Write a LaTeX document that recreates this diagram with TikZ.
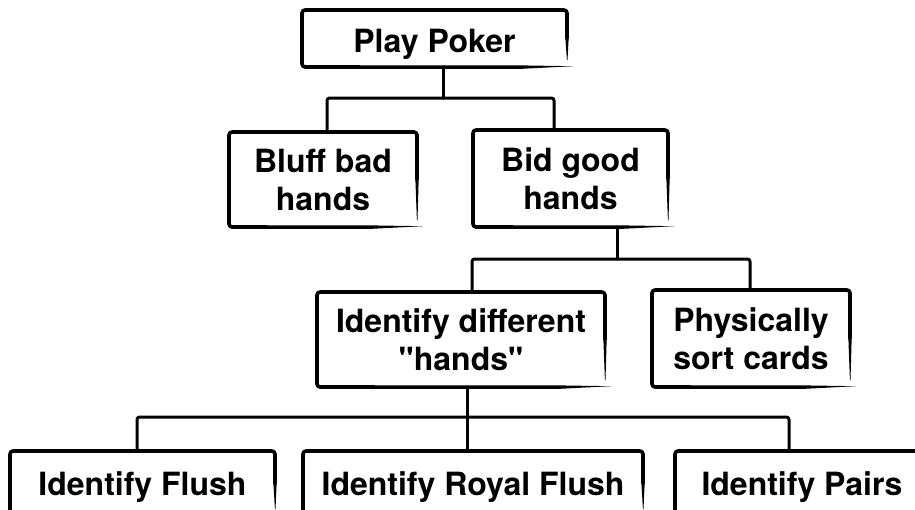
\documentclass[tikz,border=0pt]{standalone}
\usepackage{fontspec}
\newfontfamily\heros{TeX Gyre Heros}
\usetikzlibrary{calc}
\tikzset{
  boxline/.style={line width=3.6pt, rounded corners=3pt, line cap=round, line join=round},
  conn/.style={line width=3pt, rounded corners=2.5pt, line cap=round, line join=round},
  box/.style={rectangle, draw=none, inner sep=0pt, outer sep=0pt, align=center,
    font=\heros\bfseries\fontsize{32}{38}\selectfont},
  oneline/.style={text height=23pt, text depth=0pt},
}
\newcommand\skbox[1]{%
  \draw[boxline] ([xshift=14pt]#1.south west) -- (#1.south west) -- (#1.north west) -- (#1.north east) -- ($(#1.north east)!0.5!(#1.south east)$);
  \fill ($(#1.north east)!0.45!(#1.south east)+(-1.8pt,0)$) -- ($(#1.north east)!0.45!(#1.south east)+(1.8pt,0)$) -- ([xshift=0.5pt,yshift=7pt]#1.south east) -- ([xshift=-0.1pt,yshift=7pt]#1.south east) -- cycle;
  \fill ([xshift=8pt,yshift=1.8pt]#1.south west) -- ([xshift=-45pt,yshift=1.6pt]#1.south east) -- ([xshift=6pt,yshift=0.8pt]#1.south east) -- ([xshift=-45pt,yshift=-1.8pt]#1.south east) -- ([xshift=8pt,yshift=-1.8pt]#1.south west) -- cycle;
}
\begin{document}
\begin{tikzpicture}[x=1pt,y=-1pt]
\useasboundingbox (0,0) rectangle (915,509);
\clip (0,0) rectangle (915,509);
% nodes
\node[box, minimum width=265pt, minimum height=57pt, text height=27pt, text depth=0pt] (pp) at (434.5,38.5) {Play Poker};
\node[box, minimum width=188pt, minimum height=95pt] (bluff) at (323,179.5) {Bluff bad\\hands};
\node[box, minimum width=195pt, minimum height=97pt] (bid) at (570.5,178.5) {Bid good\\hands};
\node[box, minimum width=288pt, minimum height=95pt] (idd) at (461,339.5) {Identify different\\"hands"};
\node[box, minimum width=198pt, minimum height=97pt] (phys) at (751,338.5) {Physically\\sort cards};
\node[box, oneline, minimum width=265pt, minimum height=65pt] (flush) at (142.5,483.5) {Identify Flush};
\node[box, oneline, minimum width=340pt, minimum height=65pt] (royal) at (473,483.5) {Identify Royal Flush};
\node[box, oneline, minimum width=254pt, minimum height=65pt] (pairs) at (802,483.5) {Identify Pairs};
% borders
\skbox{pp}\skbox{bluff}\skbox{bid}\skbox{idd}\skbox{phys}\skbox{flush}\skbox{royal}\skbox{pairs}
% connectors
\coordinate (j1) at (443,98);
\draw[conn] ([xshift=8.5pt]pp.south) -- (j1);
\draw[conn] ([xshift=4pt]bluff.north) |- (j1) -| ([xshift=-16.5pt]bid.north);
\coordinate (j2) at (617,259);
\draw[conn] ([xshift=46.5pt]bid.south) -- (j2);
\draw[conn] ([xshift=11pt]idd.north) |- (j2) -| ([xshift=-1pt]phys.north);
\coordinate (j3) at (467,417);
\draw[conn] ([xshift=6pt]idd.south) -- (j3);
\draw[conn] ([xshift=-5.5pt]flush.north) |- (j3) -| ([xshift=-13pt]pairs.north);
\draw[conn] ([xshift=-6pt]royal.north) -- (j3);
\end{tikzpicture}
\end{document}
